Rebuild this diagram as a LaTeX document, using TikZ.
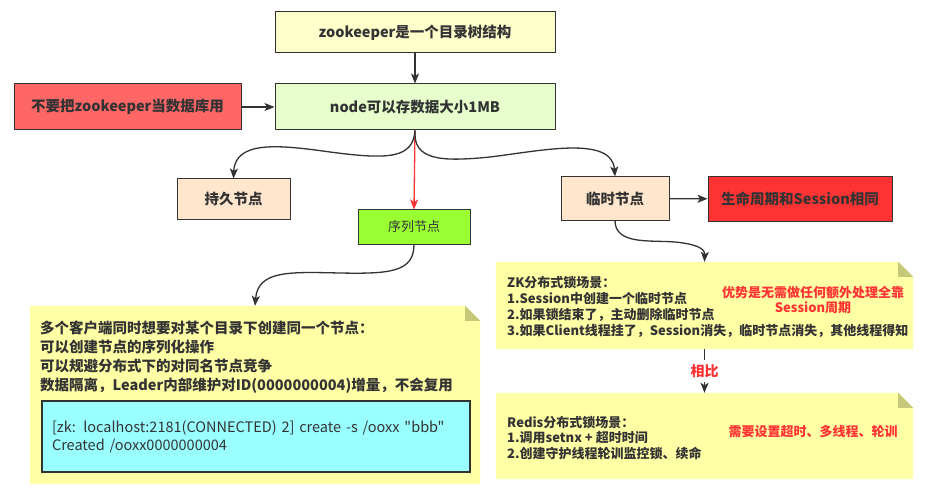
\documentclass[tikz,border=0pt]{standalone}
\usepackage{fontspec}
\setmainfont{Noto Sans CJK SC}[Ligatures=TeXOff]
\usetikzlibrary{arrows.meta}
\usepackage{xcolor}
\definecolor{txtgray}{HTML}{333333}
\definecolor{rouge}{HTML}{FF3333}
\definecolor{notejaune}{HTML}{FFFFA6}
\definecolor{notepli}{HTML}{C8C87A}

% fond des notes avec coin plié
\newcommand{\drawnote}[1]{%
  \fill[notejaune] (#1.north west) -- ([xshift=-15pt]#1.north east) -- ([yshift=-15pt]#1.north east)
     -- (#1.south east) -- (#1.south west) -- cycle;
  \fill[notepli] ([xshift=-15pt]#1.north east) -- ([xshift=-15pt,yshift=-15pt]#1.north east)
     -- ([yshift=-15pt]#1.north east) -- cycle;}

\begin{document}
\begin{tikzpicture}[x=1pt,y=-1pt,
    boite/.style={draw=txtgray, line width=1pt, text=txtgray, inner sep=0pt, minimum width=#1,
        font=\fontsize{14.5}{17}\selectfont\bfseries},
    notezone/.style={inner sep=0pt, minimum width=417pt},
    notetexte/.style={align=left, inner sep=0pt, text=txtgray, anchor=north west},
    rougetexte/.style={align=center, inner sep=0pt, text=rouge, font=\fontsize{13}{15}\selectfont\bfseries},
    fleche/.style={draw=txtgray, line width=1.3pt, -{Stealth[length=10pt,width=8pt,inset=2.5pt]}}]
    % fond blanc
    \fill[white] (0,0) rectangle (927,492);
    % boites du haut
    \node[boite=280pt, minimum height=41pt, fill={rgb,255:red,255;green,255;blue,204}] (arbre) at (415,32.5) {zookeeper是一个目录树结构};
    \node[boite=280pt, minimum height=46pt, fill={rgb,255:red,230;green,255;blue,204}] (stock) at (415,107) {node可以存数据大小1MB};
    \node[boite=227pt, minimum height=46pt, fill={rgb,255:red,255;green,102;blue,102}] (pasbdd) at (127.5,107) {不要把zookeeper当数据库用};
    \node[boite=113pt, minimum height=40pt, fill={rgb,255:red,255;green,230;blue,204}] (persist) at (233.5,199) {持久节点};
    \node[boite=112pt, minimum height=34pt, fill={rgb,255:red,153;green,255;blue,51}, font=\fontsize{13}{15}\selectfont] (seq) at (414,227) {序列节点};
    \node[boite=108pt, minimum height=43pt, fill={rgb,255:red,255;green,230;blue,204}] (temp) at (615,198.5) {临时节点};
    \node[boite=184pt, minimum height=44pt, fill=rouge] (vie) at (800,199) {生命周期和Session相同};

    % notes
    \node[notezone, minimum width=450pt, minimum height=178pt] (notegauche) at (255,395) {};
    \drawnote{notegauche}
    \node[notezone, minimum height=87pt] (zkn) at (704.5,305.5) {};
    \drawnote{zkn}
    \node[notezone, minimum height=86pt] (redisn) at (704.5,436) {};
    \drawnote{redisn}

    \node[notetexte, font=\fontsize{14.5}{19}\selectfont\bfseries] (textegauche) at (40,321)
        {多个客户端同时想要对某个目录下创建同一个节点：\\可以创建节点的序列化操作\\可以规避分布式下的对同名节点竞争\\数据隔离，Leader内部维护对ID(0000000004)增量，不会复用};
    \node[draw=txtgray, line width=1.5pt, fill={rgb,255:red,153;green,255;blue,255}, minimum width=428pt, minimum height=71pt,
        text width=408pt, align=left, inner xsep=10pt, text=txtgray, font=\fontsize{14.5}{18}\selectfont] (cmd) at (256,436.5)
        {[zk: localhost:2181(CONNECTED) 2] create -s /ooxx "bbb"\\Created /ooxx0000000004};

    \node[notetexte, font=\fontsize{13}{16}\selectfont\bfseries] (textezk) at (507,276)
        {ZK分布式锁场景：\\1.Session中创建一个临时节点\\2.如果锁结束了，主动删除临时节点\\3.如果Client线程挂了，Session消失，临时节点消失，其他线程得知};
    \node[rougetexte] (avantage) at (813,300) {优势是无需做任何额外处理全靠\\Session周期};
    \node[notetexte, font=\fontsize{13}{15.5}\selectfont\bfseries] (texteredis) at (507,416)
        {Redis分布式锁场景：\\1.调用setnx + 超时时间\\2.创建守护线程轮训监控锁、续命};
    \node[rougetexte] (inconv) at (813,432) {需要设置超时、多线程、轮训};

    % fleches
    \draw[fleche] (arbre) -- (stock);
    \draw[fleche] (pasbdd) -- (stock);
    \draw[fleche, draw=rouge] (stock.south) -- (seq.north);
    \draw[fleche] (stock.south) .. controls (413,158) and (390,160) .. (330,152)
        .. controls (280,145) and (235,140) .. (persist.north);
    \draw[fleche] (stock.south) .. controls (413,160) and (440,162) .. (490,157)
        .. controls (540,151) and (612,135) .. (temp.north);
    \draw[fleche] (temp) -- (vie);
    \draw[fleche] (seq.south) .. controls (414,272) and (390,274) .. (340,273)
        .. controls (290,272) and (258,270) .. (notegauche.north);
    \draw[fleche] (temp.south) .. controls (615,245) and (650,240) .. (675,242)
        .. controls (695,244) and (705,248) .. (zkn.north);
    \draw[fleche] (zkn.south) -- node[fill=white, inner sep=4pt, text=rouge, font=\fontsize{14}{16}\selectfont\bfseries] (cmp) {相比} (redisn.north);
\end{tikzpicture}
\end{document}
